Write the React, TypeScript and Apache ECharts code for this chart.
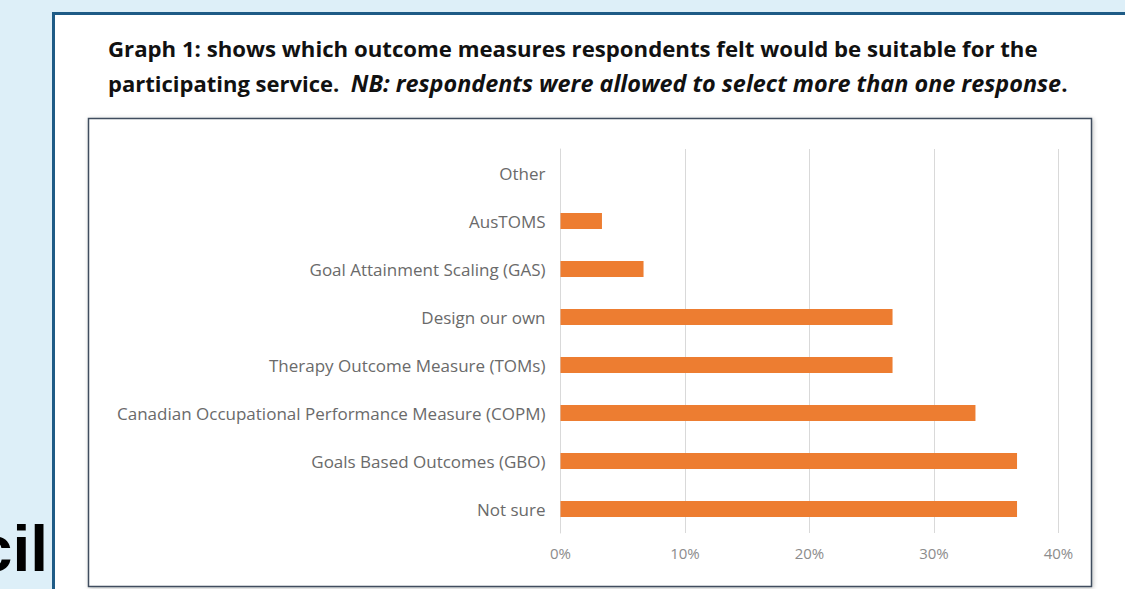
import React, { useEffect, useRef } from "react";
import * as echarts from "echarts";

const categories = [
  "Not sure",
  "Goals Based Outcomes (GBO)",
  "Canadian Occupational Performance Measure (COPM)",
  "Therapy Outcome Measure (TOMs)",
  "Design our own",
  "Goal Attainment Scaling (GAS)",
  "AusTOMS",
  "Other",
];
const values = [36.67, 36.67, 33.33, 26.67, 26.67, 6.67, 3.33, 0];
const xTicks = [0, 10, 20, 30, 40];
const titleLine1 = "Graph 1: shows which outcome measures respondents felt would be suitable for the";
const titleLine2a = "participating service.  ";
const titleLine2b = "NB: respondents were allowed to select more than one response";
const titleLine2c = ".";
const sideText = "cil";

export default function App() {
  const ref = useRef<HTMLDivElement>(null);
  useEffect(() => {
    document.body.style.margin = "0";
    const chart = echarts.init(ref.current!, null, { renderer: "svg" });
    chart.setOption({
      animation: false,
      backgroundColor: "#ddeff8",
      grid: { left: 560.5, right: 66.5, top: 149, bottom: 56 },
      xAxis: {
        type: "value",
        min: 0,
        max: 40,
        interval: 10,
        axisLine: { show: false },
        axisTick: { show: false },
        splitLine: { show: true, lineStyle: { color: "#d9d9d9", width: 1 } },
        axisLabel: {
          formatter: (v: number) => (xTicks.includes(v) ? v + "%" : ""),
          color: "#8c8c8c",
          fontFamily: "Open Sans",
          fontSize: 15,
          margin: 12,
        },
      },
      yAxis: {
        type: "category",
        data: categories,
        axisLine: { show: true, lineStyle: { color: "#d9d9d9" } },
        axisTick: { show: false },
        axisLabel: {
          color: "#6a6a6a",
          fontFamily: "Open Sans",
          fontSize: 17,
          margin: 15,
        },
      },
      series: [
        {
          type: "bar",
          data: values,
          barWidth: 16,
          itemStyle: { color: "#ed7d31" },
          z: 3,
        },
      ],
      graphic: [
        {
          type: "rect",
          z: -10,
          shape: { x: 53.5, y: 13.5, width: 1200, height: 700 },
          style: { fill: "#ffffff", stroke: "#1e5b86", lineWidth: 3 },
        },
        {
          type: "rect",
          z: -9,
          shape: { x: 88.5, y: 118.5, width: 1003, height: 468 },
          style: {
            fill: "#ffffff",
            stroke: "#3f4d5e",
            lineWidth: 1.5,
            shadowBlur: 4,
            shadowColor: "rgba(0,0,0,0.25)",
            shadowOffsetX: 1,
            shadowOffsetY: 1,
          },
        },
        {
          type: "text",
          z: 10,
          x: 108,
          y: 48,
          style: {
            text: titleLine1,
            fontFamily: "Open Sans",
            fontWeight: "bold",
            fontSize: 22.2,
            fill: "#111111",
            verticalAlign: "middle",
          },
        },
        {
          type: "text",
          z: 10,
          x: 108,
          y: 83,
          style: {
            text: "{a|" + titleLine2a + "}{b|" + titleLine2b + "}{a|" + titleLine2c + "}",
            verticalAlign: "middle",
            rich: {
              a: { fontFamily: "Open Sans", fontWeight: "bold", fontSize: 22, fill: "#111111", color: "#111111" },
              b: {
                fontFamily: "Open Sans",
                fontWeight: "bold",
                fontStyle: "italic",
                fontSize: 23.4,
                fill: "#111111",
                color: "#111111",
              },
            },
          },
        },
        {
          type: "text",
          z: 10,
          x: 48,
          y: 549,
          style: {
            text: sideText,
            fontFamily: "Liberation Sans",
            fontWeight: "bold",
            fontSize: 64,
            fill: "#000000",
            align: "right",
            verticalAlign: "middle",
          },
        },
      ],
    });
    return () => chart.dispose();
  }, []);
  return <div ref={ref} style={{ width: 1125, height: 589 }} />;
}
